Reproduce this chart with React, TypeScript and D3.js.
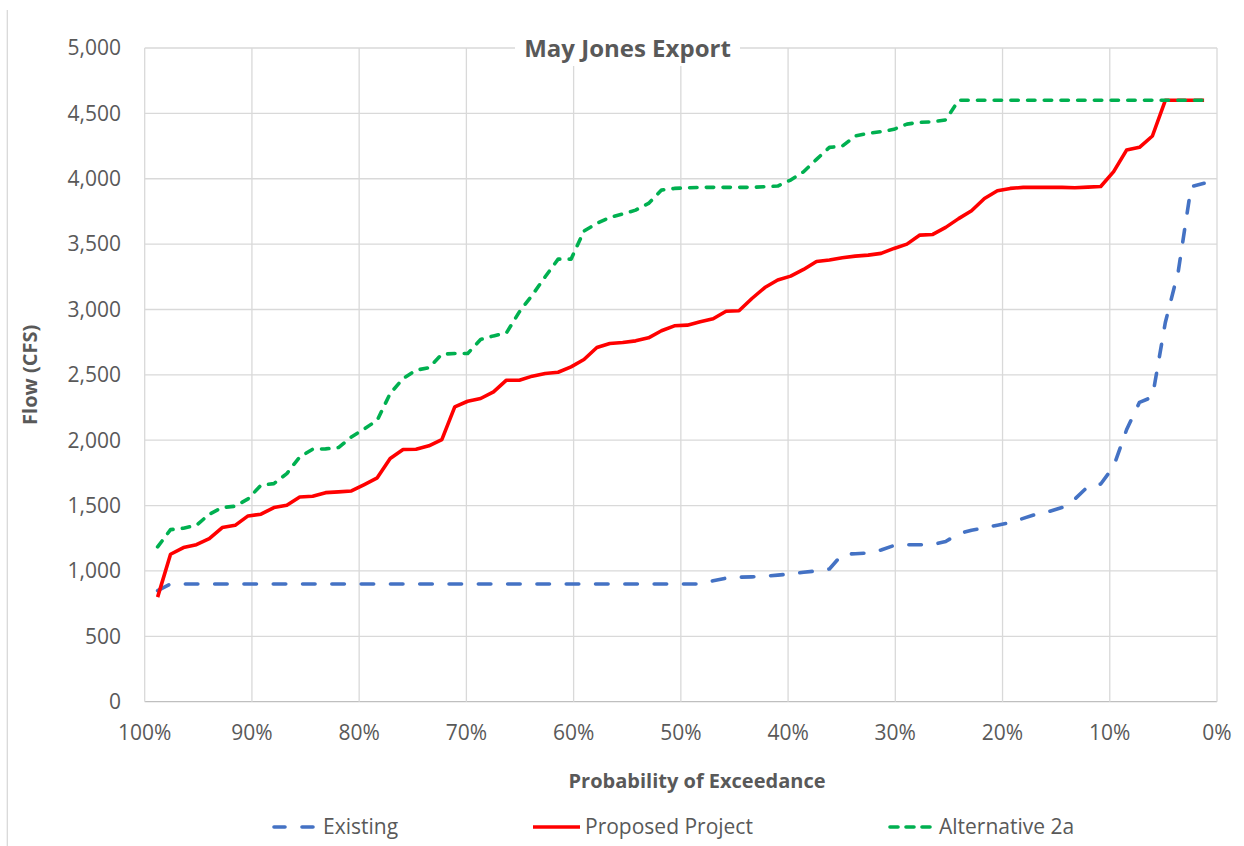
import React from 'react';
import * as d3 from 'd3';

// flows (cfs), sorted low -> high, one value per year (82 yrs)
const existing = [
  850, 900, 900, 900, 900, 900, 900, 900, 900, 900,
  900, 900, 900, 900, 900, 900, 900, 900, 900, 900,
  900, 900, 900, 900, 900, 900, 900, 900, 900, 900,
  900, 900, 900, 900, 900, 900, 900, 900, 900, 900,
  900, 900, 900, 925, 945, 952, 955, 960, 968, 978,
  990, 1000, 1015, 1128, 1132, 1138, 1160, 1195, 1200, 1200,
  1202, 1225, 1285, 1312, 1330, 1350, 1370, 1402, 1434, 1455,
  1485, 1550, 1645, 1665, 1800, 2080, 2290, 2330, 2900, 3290,
  3940, 3965,
];

const proposed = [
  800, 1128, 1179, 1201, 1247, 1332, 1349, 1421, 1434, 1485,
  1503, 1566, 1571, 1599, 1605, 1612, 1661, 1712, 1860, 1929,
  1931, 1957, 2005, 2255, 2298, 2319, 2370, 2459, 2459, 2490,
  2510, 2520, 2561, 2617, 2709, 2740, 2747, 2760, 2783, 2837,
  2875, 2880, 2906, 2929, 2987, 2990, 3084, 3168, 3225, 3255,
  3306, 3367, 3378, 3395, 3408, 3416, 3429, 3467, 3500, 3569,
  3574, 3628, 3695, 3755, 3849, 3908, 3926, 3934, 3934, 3934,
  3934, 3931, 3936, 3941, 4054, 4219, 4240, 4327, 4600, 4600,
  4600, 4600,
];

const alternative2a = [
  1184, 1316, 1327, 1349, 1434, 1485, 1495, 1551, 1656, 1668,
  1745, 1872, 1931, 1934, 1944, 2025, 2087, 2153, 2357, 2472,
  2536, 2554, 2658, 2663, 2663, 2770, 2798, 2821, 2982, 3110,
  3250, 3385, 3385, 3600, 3658, 3704, 3730, 3760, 3811, 3913,
  3926, 3931, 3934, 3934, 3934, 3934, 3934, 3939, 3944, 3990,
  4054, 4148, 4240, 4250, 4327, 4347, 4360, 4378, 4418, 4431,
  4436, 4450, 4600, 4600, 4600, 4600, 4600, 4600, 4600, 4600,
  4600, 4600, 4600, 4600, 4600, 4600, 4600, 4600, 4600, 4600,
  4600, 4600,
];

const yTicks = [0, 500, 1000, 1500, 2000, 2500, 3000, 3500, 4000, 4500, 5000];
const xTicks = [1, 0.9, 0.8, 0.7, 0.6, 0.5, 0.4, 0.3, 0.2, 0.1, 0];

const seriesNames = ['Existing', 'Proposed Project', 'Alternative 2a'];

const W = 1244;
const H = 846;
const plot = { left: 144.7, right: 1217, top: 48, bottom: 701.7 };
const font = "'Open Sans', 'Liberation Sans', sans-serif";
const textColor = '#595959';
const gridColor = '#d9d9d9';

const styles = [
  { color: '#4472C4', dash: '12.5 16.8' },
  { color: '#FF0000', dash: null },
  { color: '#00B050', dash: '7.4 9.3' },
];

export default function App() {
  const n = proposed.length;
  // Weibull plotting position i/(n+1)
  const exceed = d3.range(n).map(i => 1 - (i + 1) / (n + 1));

  const x = d3.scaleLinear().domain([1, 0]).range([plot.left, plot.right]);
  const y = d3.scaleLinear().domain([0, 5000]).range([plot.bottom, plot.top]);

  const line = d3.line<number>()
    .x((_, i) => x(exceed[i]))
    .y(d => y(d));

  const fmtY = d3.format(',');
  const fmtX = d3.format('.0%');

  const allSeries = [existing, proposed, alternative2a];

  // legend entries: [line start, line end, text x]
  const legendPos = [
    [272, 316, 323],
    [533, 580, 585],
    [888, 933, 939],
  ];
  const legendY = 827;

  return (
    <svg width={W} height={H} style={{ position: 'absolute', left: 0, top: 0, background: '#fff' }}
      fontFamily={font}>
      <rect x={0} y={0} width={W} height={H} fill="#fff" />
      {/* chart frame edge */}
      <line x1={7.3} x2={7.3} y1={10} y2={H} stroke={gridColor} strokeWidth={1.3} />

      {/* gridlines */}
      {yTicks.map(t => (
        <line key={'gy' + t} x1={plot.left} x2={plot.right} y1={y(t)} y2={y(t)}
          stroke={t === 0 ? '#bfbfbf' : gridColor} strokeWidth={1.3} />
      ))}
      {xTicks.map(t => (
        <line key={'gx' + t} x1={x(t)} x2={x(t)} y1={plot.top} y2={plot.bottom}
          stroke={gridColor} strokeWidth={1.3} />
      ))}

      {/* y tick labels */}
      {yTicks.map(t => (
        <text key={'ty' + t} x={121} y={y(t)} dy="0.35em" textAnchor="end"
          fontSize={21} fill={textColor}>{fmtY(t)}</text>
      ))}
      {/* x tick labels */}
      {xTicks.map(t => (
        <text key={'tx' + t} x={x(t)} y={740} textAnchor="middle"
          fontSize={21} fill={textColor}>{fmtX(t)}</text>
      ))}

      {/* series */}
      {allSeries.map((s, i) => (
        <path key={seriesNames[i]} d={line(s) ?? ''} fill="none"
          stroke={styles[i].color} strokeWidth={3.6}
          strokeDasharray={styles[i].dash ?? undefined}
          strokeLinecap={styles[i].dash ? 'round' : 'butt'}
          strokeLinejoin="round" />
      ))}

      {/* title with white box over the top gridline */}
      <rect x={515} y={28} width={225} height={38} fill="#fff" />
      <text x={627.5} y={57} textAnchor="middle" fontSize={24} fontWeight="bold"
        fill={textColor}>May Jones Export</text>

      {/* axis titles */}
      <text x={697} y={788} textAnchor="middle" fontSize={20} fontWeight="bold"
        fill={textColor}>Probability of Exceedance</text>
      <text transform={`translate(37,${(plot.top + plot.bottom) / 2}) rotate(-90)`}
        textAnchor="middle" fontSize={20} fontWeight="bold" fill={textColor}>Flow (CFS)</text>

      {/* legend */}
      {seriesNames.map((name, i) => (
        <g key={'lg' + name}>
          <line x1={legendPos[i][0] + (styles[i].dash ? 2 : 0)} x2={legendPos[i][1] - (styles[i].dash ? 2 : 0)}
            y1={legendY} y2={legendY}
            stroke={styles[i].color} strokeWidth={3.6}
            strokeDasharray={i === 0 ? '11 17' : i === 2 ? '8 8' : undefined}
            strokeLinecap={styles[i].dash ? 'round' : 'butt'} />
          <text x={legendPos[i][2]} y={legendY} dy="0.35em" fontSize={21}
            fill={textColor}>{name}</text>
        </g>
      ))}
    </svg>
  );
}
